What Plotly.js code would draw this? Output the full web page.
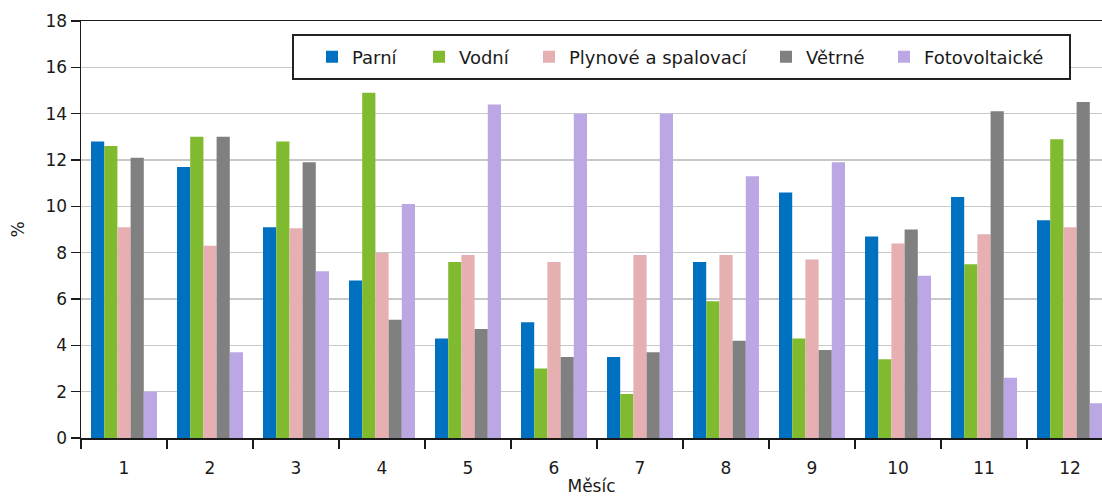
<!DOCTYPE html>
<html>
<head>
<meta charset="utf-8">
<script src="https://cdn.plot.ly/plotly-3.0.1.min.js"></script>
<style>html,body{margin:0;padding:0;background:#fff;}#chart{width:1102px;height:496px;}</style>
</head>
<body>
<div id="chart"></div>
<script>
const months = ["1","2","3","4","5","6","7","8","9","10","11","12"];
const seriesNames = ["Parní","Vodní","Plynové a spalovací","Větrné","Fotovoltaické"];
const parni = [12.8, 11.7, 9.1, 6.8, 4.3, 5.0, 3.5, 7.6, 10.6, 8.7, 10.4, 9.4];
const vodni = [12.6, 13.0, 12.8, 14.9, 7.6, 3.0, 1.9, 5.9, 4.3, 3.4, 7.5, 12.9];
const plynove = [9.1, 8.3, 9.05, 8.0, 7.9, 7.6, 7.9, 7.9, 7.7, 8.4, 8.8, 9.1];
const vetrne = [12.1, 13.0, 11.9, 5.1, 4.7, 3.5, 3.7, 4.2, 3.8, 9.0, 14.1, 14.5];
const fotovoltaicke = [2.0, 3.7, 7.2, 10.1, 14.4, 14.0, 14.0, 11.3, 11.9, 7.0, 2.6, 1.5];
const yTicks = [0, 2, 4, 6, 8, 10, 12, 14, 16, 18];
const xTitle = "Měsíc";
const yTitle = "%";

const seriesValues = [parni, vodni, plynove, vetrne, fotovoltaicke];
const colors = ["#0070C0", "#80BA2E", "#E6AFB1", "#808080", "#BBA7E4"];
const font = "DejaVu Sans, Verdana, sans-serif";
const txt = "#1a1a1a";

// plot area in pixels (for placing legend entries / legend frame)
const plotL = 81, plotW = 1021, plotT = 21, plotH = 417;
const px2x = p => (p - plotL) / plotW;
const px2y = p => (plotT + plotH - p) / plotH;

// legend entry left positions (px)
const legendLeft = [312, 419, 529, 766, 884];
const legendKeys = ["legend", "legend2", "legend3", "legend4", "legend5"];

const traces = seriesNames.map((name, i) => ({
  type: "bar",
  name: name,
  x: months,
  y: seriesValues[i],
  legend: legendKeys[i],
  marker: {color: colors[i], line: {width: 0}},
  hoverinfo: "x+y+name"
}));

const layout = {
  width: 1102,
  height: 496,
  margin: {l: plotL, r: 0, t: plotT, b: 58},
  paper_bgcolor: "#ffffff",
  plot_bgcolor: "#ffffff",
  barmode: "group",
  bargap: 0.233,
  bargroupgap: 0,
  font: {family: font, size: 17, color: txt},
  showlegend: true,
  xaxis: {
    type: "category",
    range: [-0.5, 11.372],
    showline: true,
    linecolor: txt,
    linewidth: 1.5,
    mirror: true,
    ticks: "outside",
    tickson: "boundaries",
    ticklen: 9,
    tickwidth: 1.5,
    tickcolor: txt,
    ticklabelstandoff: 14,
    showgrid: false,
    zeroline: false,
    tickfont: {family: font, size: 17, color: txt},
    title: {text: xTitle, font: {family: font, size: 17, color: txt}, standoff: 5}
  },
  yaxis: {
    range: [0, 18],
    tickvals: yTicks,
    ticktext: yTicks.map(String),
    showline: true,
    linecolor: txt,
    linewidth: 1.5,
    ticks: "outside",
    ticklen: 9,
    tickwidth: 1.5,
    tickcolor: txt,
    showgrid: true,
    gridcolor: "#C8C8C8",
    gridwidth: 1.5,
    zeroline: false,
    tickfont: {family: font, size: 17, color: txt},
    title: {text: yTitle, font: {family: font, size: 17, color: txt}, standoff: 16}
  },
  shapes: [{
    type: "rect", xref: "paper", yref: "paper",
    x0: px2x(293), x1: px2x(1070), y0: px2y(79), y1: px2y(35),
    line: {color: "#222222", width: 2},
    fillcolor: "#ffffff",
    layer: "above"
  }]
};

legendKeys.forEach((k, i) => {
  layout[k] = {
    orientation: "h",
    x: px2x(legendLeft[i]), xanchor: "left",
    y: px2y(57), yanchor: "middle",
    bgcolor: "rgba(0,0,0,0)",
    borderwidth: 0,
    font: {family: font, size: 18, color: txt}
  };
});

Plotly.newPlot("chart", traces, layout, {displayModeBar: false, staticPlot: true});
</script>
</body>
</html>
